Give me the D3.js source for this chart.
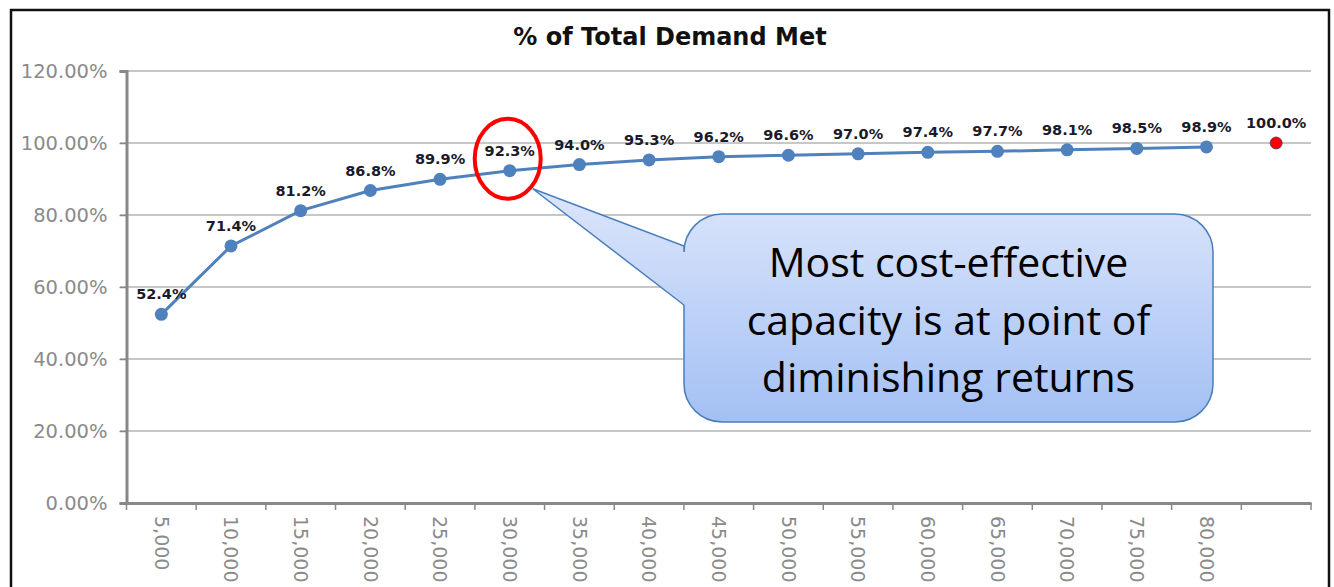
<!DOCTYPE html>
<html>
<head>
<meta charset="utf-8">
<script src="https://cdnjs.cloudflare.com/ajax/libs/d3/7.8.5/d3.min.js"></script>
<style>
  body { margin: 0; background: #fff; }
  svg { display: block; font-family: "DejaVu Sans", Verdana, sans-serif; }
</style>
</head>
<body>
<svg id="chart" width="1334" height="587"></svg>
<script>

// capacity levels along the x axis (last slot is the full-demand point, no label)
const capacity = ["5,000", "10,000", "15,000", "20,000", "25,000", "30,000", "35,000", "40,000",
                  "45,000", "50,000", "55,000", "60,000", "65,000", "70,000", "75,000", "80,000", ""]

// % of total demand met at each capacity
const demandMet = [52.4, 71.4, 81.2, 86.8, 89.9, 92.3, 94.0, 95.3, 96.2, 96.6, 97.0, 97.4, 97.7, 98.1, 98.5, 98.9]

// the red "all demand" point sits in the last slot
const fullDemand = [{ i: 16, v: 100.0 }]

const yTicks = [0, 20, 40, 60, 80, 100, 120]

const calloutLines = ["Most cost-effective", "capacity is at point of", "diminishing returns"]
const highlightIndex = 5   // 30,000 -> 92.3%


const svg = d3.select('#chart')

// outer frame
svg.append('rect')
    .attr('x', 11).attr('y', 10)
    .attr('width', 1318).attr('height', 600)
    .attr('fill', 'none')
    .attr('stroke', '#111')
    .attr('stroke-width', 2.5)

const x = d3.scaleBand()
    .domain(d3.range(capacity.length))
    .range([126.5, 1311])
    .paddingInner(0).paddingOuter(0)

const y = d3.scaleLinear()
    .domain([0, 120])
    .range([503, 71])

const cx = i => x(i) + x.bandwidth() / 2

// title
svg.append('text')
    .attr('x', 670).attr('y', 45)
    .attr('text-anchor', 'middle')
    .attr('font-weight', 'bold')
    .attr('font-size', 24)
    .attr('fill', '#111')
    .text('% of Total Demand Met')

// horizontal gridlines
svg.append('g')
    .selectAll('line')
    .data(yTicks.filter(d => d > 0))
    .join('line')
        .attr('x1', 120).attr('x2', 1311)
        .attr('y1', d => y(d)).attr('y2', d => y(d))
        .attr('stroke', '#b4b4b4')
        .attr('stroke-width', 1.5)

// y axis
const gy = svg.append('g')
    .attr('transform', `translate(${x.range()[0]},0)`)
    .call(d3.axisLeft(y).tickValues(yTicks).tickSize(7).tickPadding(12).tickFormat(d => d.toFixed(2) + '%'))

gy.select('.domain').attr('stroke', '#888').attr('stroke-width', 3)
gy.selectAll('.tick line').attr('stroke', '#888').attr('stroke-width', 1.5)
gy.selectAll('.tick text')
    .attr('fill', '#8a8a8a')
    .attr('font-size', 19.5)
    .attr('font-family', '"DejaVu Sans", Verdana, sans-serif')

// x axis - labels only, tick marks drawn between categories like excel does
const gx = svg.append('g')
    .attr('transform', `translate(0,${y(0)})`)
    .call(d3.axisBottom(x).tickSize(0).tickFormat(i => capacity[i]))

gx.select('.domain').attr('stroke', '#888').attr('stroke-width', 3)
gx.selectAll('.tick text')
    .attr('fill', '#8a8a8a')
    .attr('font-size', 19)
    .attr('font-family', '"DejaVu Sans", Verdana, sans-serif')
    .attr('text-anchor', 'start')
    .attr('transform', 'rotate(90)')
    .attr('x', 13)
    .attr('y', 0)
    .attr('dy', '0.35em')

svg.append('g')
    .selectAll('line')
    .data(d3.range(capacity.length + 1))
    .join('line')
        .attr('x1', i => x.range()[0] + i * x.step())
        .attr('x2', i => x.range()[0] + i * x.step())
        .attr('y1', y(0)).attr('y2', y(0) + 7)
        .attr('stroke', '#888')
        .attr('stroke-width', 1.5)


// the demand curve
const line = d3.line()
    .x((d, i) => cx(i))
    .y(d => y(d))

svg.append('path')
    .datum(demandMet)
    .attr('d', line)
    .attr('fill', 'none')
    .attr('stroke', '#4f81bd')
    .attr('stroke-width', 3)

svg.append('g')
    .selectAll('circle')
    .data(demandMet)
    .join('circle')
        .attr('cx', (d, i) => cx(i))
        .attr('cy', d => y(d))
        .attr('r', 6.5)
        .attr('fill', '#4f81bd')

svg.append('g')
    .selectAll('circle')
    .data(fullDemand)
    .join('circle')
        .attr('cx', d => cx(d.i))
        .attr('cy', d => y(d.v))
        .attr('r', 6)
        .attr('fill', '#ff0000')
        .attr('stroke', '#3a3a7a')
        .attr('stroke-width', 0.8)

// data labels
const labels = demandMet.map((v, i) => ({ i: i, v: v })).concat(fullDemand)

svg.append('g')
    .selectAll('text')
    .data(labels)
    .join('text')
        .attr('x', d => cx(d.i))
        .attr('y', d => y(d.v) - 15)
        .attr('text-anchor', 'middle')
        .attr('font-size', 14.5)
        .attr('font-weight', 'bold')
        .attr('fill', '#1a1a2a')
        .text(d => d.v.toFixed(1) + '%')


// red ring round the 30,000 point
const hx = cx(highlightIndex), hy = y(demandMet[highlightIndex])

svg.append('ellipse')
    .attr('cx', hx - 2).attr('cy', hy - 12)
    .attr('rx', 33).attr('ry', 40)
    .attr('fill', 'none')
    .attr('stroke', '#ff0000')
    .attr('stroke-width', 4)


// callout bubble
const defs = svg.append('defs')
const grad = defs.append('linearGradient')
    .attr('id', 'calloutFill')
    .attr('x1', 0).attr('y1', 0).attr('x2', 0).attr('y2', 1)
grad.append('stop').attr('offset', '0%').attr('stop-color', '#dce6fb')
grad.append('stop').attr('offset', '100%').attr('stop-color', '#a3c0f4')

const box = { x0: 684, y0: 214, x1: 1213, y1: 422, r: 38 }
const tip = [hx + 23, hy + 18]
const tailTop = 246, tailBottom = 305

const p = d3.path()
p.moveTo(box.x0 + box.r, box.y0)
p.lineTo(box.x1 - box.r, box.y0)
p.arcTo(box.x1, box.y0, box.x1, box.y0 + box.r, box.r)
p.lineTo(box.x1, box.y1 - box.r)
p.arcTo(box.x1, box.y1, box.x1 - box.r, box.y1, box.r)
p.lineTo(box.x0 + box.r, box.y1)
p.arcTo(box.x0, box.y1, box.x0, box.y1 - box.r, box.r)
p.lineTo(box.x0, tailBottom)
p.lineTo(tip[0], tip[1])
p.lineTo(box.x0, tailTop)
p.lineTo(box.x0, box.y0 + box.r)
p.arcTo(box.x0, box.y0, box.x0 + box.r, box.y0, box.r)
p.closePath()

svg.append('path')
    .attr('d', p.toString())
    .attr('fill', 'url(#calloutFill)')
    .attr('stroke', '#4a7ebb')
    .attr('stroke-width', 1.5)

svg.append('g')
    .selectAll('text')
    .data(calloutLines)
    .join('text')
        .attr('x', (box.x0 + box.x1) / 2)
        .attr('y', (d, i) => 277 + i * 57.5)
        .attr('text-anchor', 'middle')
        .attr('font-family', '"Open Sans", "Noto Sans", sans-serif')
        .attr('font-size', 41)
        .attr('fill', '#000')
        .text(d => d)

</script>
</body>
</html>
